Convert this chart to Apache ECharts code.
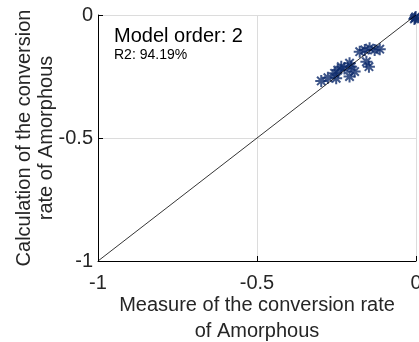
<!DOCTYPE html>
<html>
<head>
<meta charset="utf-8">
<title>Model order 2</title>
<style>
html,body{margin:0;padding:0;background:#fff;}
#chart{width:419px;height:342px;}
</style>
</head>
<body>
<div id="chart"></div>
<script src="https://cdn.jsdelivr.net/npm/echarts@6/dist/echarts.min.js"></script>
<script>
// measured vs calculated conversion rate
var measured = [-0.003, -0.001, -0.005, -0.298, -0.277, -0.256, -0.251, -0.246, -0.235, -0.225, -0.209, -0.204, -0.193, -0.209, -0.177, -0.161, -0.146, -0.130, -0.114, -0.156, -0.148];
var calculated = [-0.012, -0.008, -0.016, -0.268, -0.255, -0.237, -0.257, -0.224, -0.210, -0.217, -0.196, -0.210, -0.230, -0.250, -0.149, -0.142, -0.135, -0.142, -0.139, -0.190, -0.210];
var refLine = [[-1, -1], [0, 0]];

var pts = [];
for (var i = 0; i < measured.length; i++) {
    pts.push([measured[i], calculated[i]]);
}

var font = 'Liberation Sans, Arial, sans-serif';
var star = 'path://M0,-10L0,10M-10,0L10,0M-7,-7L7,7M-7,7L7,-7';

var chart = echarts.init(document.getElementById('chart'));
chart.setOption({
    animation: false,
    grid: {left: 98, right: 3, top: 15, bottom: 81, containLabel: false, outerBoundsMode: 'none'},
    xAxis: {
        type: 'value', min: -1, max: 0, interval: 0.5,
        axisLine: {onZero: false, lineStyle: {color: '#000'}},
        axisTick: {inside: true, length: 5, lineStyle: {color: '#000'}},
        axisLabel: {color: '#262626', fontSize: 20, fontFamily: font, margin: 12,
            formatter: function (v) { return String(v); }},
        splitLine: {lineStyle: {color: '#dcdcdc'}},
        name: 'Measure of the conversion rate\nof Amorphous',
        nameLocation: 'middle', nameGap: 31, nameMoveOverlap: false,
        nameTextStyle: {color: '#262626', fontSize: 20, fontFamily: font, lineHeight: 26}
    },
    yAxis: {
        type: 'value', min: -1, max: 0, interval: 0.5,
        axisLine: {onZero: false, lineStyle: {color: '#000'}},
        axisTick: {inside: true, length: 5, lineStyle: {color: '#000'}},
        axisLabel: {color: '#262626', fontSize: 20, fontFamily: font, margin: 5,
            formatter: function (v) { return String(v); }},
        splitLine: {lineStyle: {color: '#dcdcdc'}},
        name: 'Calculation of the conversion\nrate of Amorphous',
        nameLocation: 'middle', nameGap: 41, nameMoveOverlap: false,
        nameTextStyle: {color: '#262626', fontSize: 20, fontFamily: font, lineHeight: 22}
    },
    graphic: [
        {type: 'text', left: 114, top: 26, style: {text: 'Model order: 2', fill: '#000', font: '20px ' + font}},
        {type: 'text', left: 114, top: 48, style: {text: 'R2: 94.19%', fill: '#000', font: '14px ' + font}}
    ],
    series: [
        {
            type: 'line', data: refLine, symbol: 'none',
            lineStyle: {color: '#000', width: 0.8}, silent: true
        },
        {
            type: 'scatter', data: pts, symbol: star, symbolSize: 12,
            itemStyle: {color: 'none', borderColor: '#0d2a6b', borderWidth: 2}
        }
    ]
});
</script>
</body>
</html>
